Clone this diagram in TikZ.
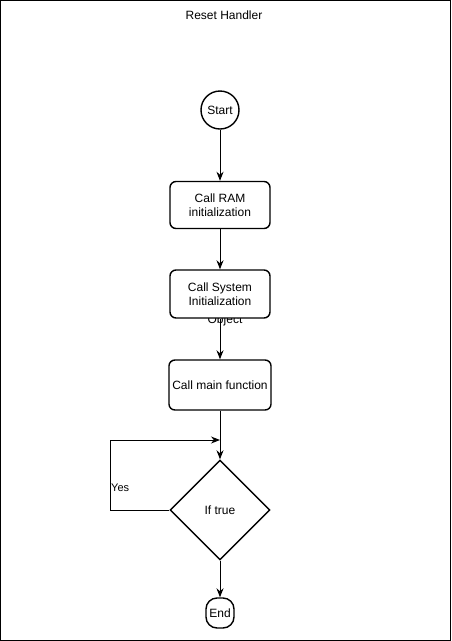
\documentclass[tikz,border=0pt]{standalone}
\usepackage{fontspec}
\setmainfont{Liberation Sans}
\usetikzlibrary{arrows.meta, shapes.geometric, positioning}
\tikzset{%
>={Stealth[width=7pt,length=9pt]},
  % Specifications for style of nodes:
            terminal/.style = {circle, draw=black, line width=1.4pt,
                            fill=white, minimum size=38pt, inner sep=0pt, font=\fontsize{12}{14}\selectfont},
            process/.style = {rectangle, rounded corners=6pt, draw=black, line width=1.4pt,
                            fill=white, minimum width=100pt, minimum height=47pt,
                            align=center, font=\fontsize{12}{14}\selectfont},
            decision/.style = {diamond, draw=black, line width=1.4pt, fill=white,
                            minimum size=100pt, inner sep=0pt, font=\fontsize{12}{14}\selectfont},
            endbox/.style = {rectangle, rounded corners=11pt, draw=black, line width=1.4pt,
                            fill=white, minimum width=28pt, minimum height=30pt, inner sep=0pt,
                            font=\fontsize{12}{14}\selectfont},
            label/.style = {font=\fontsize{11}{13}\selectfont, inner sep=0pt},
            flow/.style = {line width=1pt, ->}
}
\begin{document}
\begin{tikzpicture}[x=1pt, y=-1pt]
                        \useasboundingbox (0,0) rectangle (451,641);
                        \draw[line width=1pt] (0.5,0.5) rectangle (450,640);
                        \node[label, font=\fontsize{12}{14}\selectfont] (title) at (224,15) {Reset Handler};
                        % text hidden behind the second box
                        \node[label, font=\fontsize{12}{14}\selectfont] (obj) at (225,320) {Object};
                        \node[terminal] (start) at (220,110) {Start};
                        \node[process] (ram) at (220,205) {Call RAM\\initialization};
                        \node[process, minimum height=48pt] (sys) at (220,294) {Call System\\Initialization};
                        \node[process, minimum height=50pt] (main) at (220,385) {Call main function};
                        \node[decision] (cond) at (220,510) {If true};
                        \node[endbox] (end) at (220,613) {End};
                        \coordinate (loopA) at (110,510);
                        \coordinate (loopB) at (110,440);
                        \coordinate (loopC) at (220,440);
                        \draw[flow] (start)--(ram);
                        \draw[flow] (ram)--(sys);
                        \draw[flow] (sys)--(main);
                        \draw[flow] (main)--(cond);
                        \draw[flow] (cond.west)--(loopA)--(loopB)--(loopC);
                        \draw[flow] (cond)--(end);
                        \node[label, anchor=west] (yes) at (111,488) {Yes};
                    \end{tikzpicture}
\end{document}
